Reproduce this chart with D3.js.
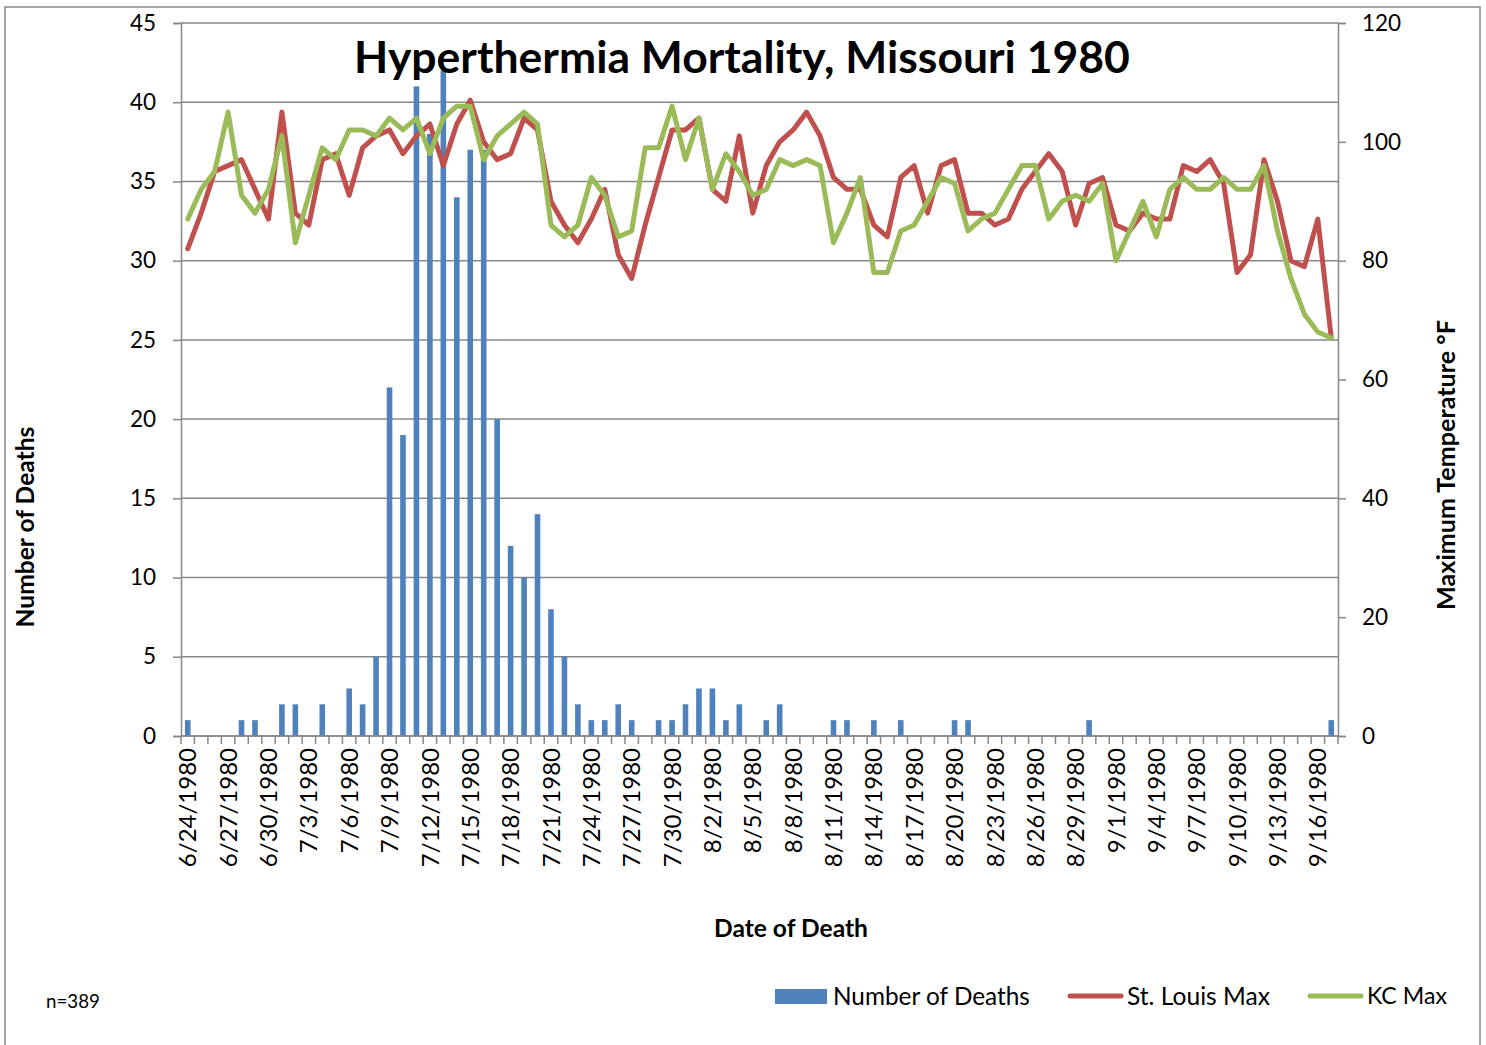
<!DOCTYPE html>
<html>
<head>
<meta charset="utf-8">
<script src="https://cdn.jsdelivr.net/npm/d3@7"></script>
<style>
  html, body { margin: 0; padding: 0; background: #fff; }
  svg { display: block; }
  text { font-family: Lato, "Open Sans", sans-serif; fill: #000; }
</style>
</head>
<body>
<svg id="chart" width="1486" height="1045"></svg>
<script>
// ---------- DATA ----------
const dates = d3.timeDay.range(new Date(1980, 5, 24), new Date(1980, 8, 18))
  .map(d3.timeFormat("%-m/%-d/%Y"));

const deaths = [
  1, 0, 0, 0, 1, 1, 0, 2, 2, 0,
  2, 0, 3, 2, 5, 22, 19, 41, 38, 42,
  34, 37, 37, 20, 12, 10, 14, 8, 5, 2,
  1, 1, 2, 1, 0, 1, 1, 2, 3, 3,
  1, 2, 0, 1, 2, 0, 0, 0, 1, 1,
  0, 1, 0, 1, 0, 0, 0, 1, 1, 0,
  0, 0, 0, 0, 0, 0, 0, 1, 0, 0,
  0, 0, 0, 0, 0, 0, 0, 0, 0, 0,
  0, 0, 0, 0, 0, 1
];

const stLouisMax = [
  82, 88, 95, 96, 97, 92, 87, 105, 88, 86,
  97, 98, 91, 99, 101, 102, 98, 101, 103, 96,
  103, 107, 100, 97, 98, 104, 102, 90, 86, 83,
  87, 92, 81, 77, 86, 94, 102, 102, 104, 92,
  90, 101, 88, 96, 100, 102, 105, 101, 94, 92,
  92, 86, 84, 94, 96, 88, 96, 97, 88, 88,
  86, 87, 92, 95, 98, 95, 86, 93, 94, 86,
  85, 88, 87, 87, 96, 95, 97, 93, 78, 81,
  97, 90, 80, 79, 87, 67
];

const kcMax = [
  87, 92, 95, 105, 91, 88, 92, 101, 83, 91,
  99, 97, 102, 102, 101, 104, 102, 104, 98, 104,
  106, 106, 97, 101, 103, 105, 103, 86, 84, 86,
  94, 91, 84, 85, 99, 99, 106, 97, 104, 92,
  98, 95, 91, 92, 97, 96, 97, 96, 83, 88,
  94, 78, 78, 85, 86, 90, 94, 93, 85, 87,
  88, 92, 96, 96, 87, 90, 91, 90, 93, 80,
  85, 90, 84, 92, 94, 92, 92, 94, 92, 92,
  96, 85, 77, 71, 68, 67
];

const leftTicks = [0, 5, 10, 15, 20, 25, 30, 35, 40, 45];
const rightTicks = [0, 20, 40, 60, 80, 100, 120];
const seriesNames = ["Number of Deaths", "St. Louis Max", "KC Max"];
const titleText = "Hyperthermia Mortality, Missouri 1980";

// ---------- LAYOUT ----------
const colors = { bar: "#4F81BD", stl: "#C0504D", kc: "#9BBB59", axis: "#878787" };
const plot = { left: 181, right: 1338, top: 23, bottom: 736 };

const svg = d3.select("#chart");

function fit(sel, w) {
  const cur = parseFloat(sel.attr("font-size"));
  const len = sel.node().getComputedTextLength();
  sel.attr("font-size", cur * w / len);
  return sel;
}

// outer chart border
svg.append("rect")
  .attr("x", 5).attr("y", 7).attr("width", 1475).attr("height", 1060)
  .attr("fill", "none").attr("stroke", "#8a8a8a").attr("stroke-width", 1.5);

const x = d3.scaleBand().domain(dates).range([plot.left, plot.right]).padding(0);
const yL = d3.scaleLinear().domain([0, 45]).range([plot.bottom, plot.top]);
const yR = d3.scaleLinear().domain([0, 120]).range([plot.bottom, plot.top]);

// gridlines
svg.append("g").selectAll("line").data(leftTicks).join("line")
  .attr("x1", plot.left).attr("x2", plot.right)
  .attr("y1", d => yL(d)).attr("y2", d => yL(d))
  .attr("stroke", colors.axis).attr("stroke-width", 1.5);

// bars
const barW = 5.6;
svg.append("g").selectAll("rect").data(deaths).join("rect")
  .attr("x", (d, i) => x(dates[i]) + x.bandwidth() / 2 - barW / 2)
  .attr("y", d => yL(d))
  .attr("width", barW)
  .attr("height", d => yL(0) - yL(d))
  .attr("fill", colors.bar);

// left axis
const leftAxis = d3.axisLeft(yL).tickValues(leftTicks).tickSize(8).tickPadding(17);
const gL = svg.append("g").attr("transform", `translate(${plot.left},0)`).call(leftAxis);
// right axis
const rightAxis = d3.axisRight(yR).tickValues(rightTicks).tickSize(8).tickPadding(16);
const gR = svg.append("g").attr("transform", `translate(${plot.right},0)`).call(rightAxis);

// bottom axis
const bottomAxis = d3.axisBottom(x)
  .tickValues(dates.filter((d, i) => i % 3 === 0))
  .tickSize(0).tickPadding(0);
const gB = svg.append("g").attr("transform", `translate(0,${plot.bottom})`).call(bottomAxis);

[gL, gR, gB].forEach(g => {
  g.select(".domain").attr("stroke", colors.axis).attr("stroke-width", 1.5);
  g.selectAll(".tick line").attr("stroke", colors.axis).attr("stroke-width", 1.5);
  g.selectAll(".tick text").attr("font-family", "Lato").attr("font-size", 22.5).attr("fill", "#000");
});
gB.select(".domain").attr("d", `M${plot.left},0H${plot.right}`);
gB.selectAll(".tick text")
  .attr("font-size", 24)
  .attr("transform", "rotate(-90)")
  .attr("text-anchor", "end")
  .attr("x", -12).attr("y", 0).attr("dy", "0.36em");

// category boundary tick marks on x axis
const bounds = dates.map(d => x(d)).concat([plot.right]);
svg.append("g").selectAll("line").data(bounds).join("line")
  .attr("x1", d => d).attr("x2", d => d)
  .attr("y1", plot.bottom).attr("y2", plot.bottom + 8)
  .attr("stroke", colors.axis).attr("stroke-width", 1.5);

// lines
const cx = i => x(dates[i]) + x.bandwidth() / 2;
const lineGen = d3.line().x((d, i) => cx(i)).y(d => yR(d));
svg.append("path").datum(stLouisMax)
  .attr("d", lineGen).attr("fill", "none")
  .attr("stroke", colors.stl).attr("stroke-width", 5)
  .attr("stroke-linejoin", "round").attr("stroke-linecap", "round");
svg.append("path").datum(kcMax)
  .attr("d", lineGen).attr("fill", "none")
  .attr("stroke", colors.kc).attr("stroke-width", 5)
  .attr("stroke-linejoin", "round").attr("stroke-linecap", "round");

// title
const title = svg.append("text")
  .attr("x", 742).attr("y", 73)
  .attr("text-anchor", "middle")
  .attr("font-weight", "bold").attr("font-size", 40)
  .text(titleText);
fit(title, 776);

// axis titles
const yTitleL = svg.append("text")
  .attr("transform", "translate(34,527) rotate(-90)")
  .attr("text-anchor", "middle").attr("font-weight", "bold").attr("font-size", 21)
  .text("Number of Deaths");
fit(yTitleL, 201);

const yTitleR = svg.append("text")
  .attr("transform", "translate(1455,465) rotate(-90)")
  .attr("text-anchor", "middle").attr("font-weight", "bold").attr("font-size", 21)
  .text("Maximum Temperature °F");
fit(yTitleR, 290);

const xTitle = svg.append("text")
  .attr("x", 791).attr("y", 937)
  .attr("text-anchor", "middle").attr("font-weight", "bold").attr("font-size", 21)
  .text("Date of Death");
fit(xTitle, 154);

// n label
const nLabel = svg.append("text")
  .attr("x", 46).attr("y", 1008).attr("font-size", 17).text("n=389");
fit(nLabel, 54);

// legend
const legY = 996;
svg.append("rect").attr("x", 775).attr("y", 989).attr("width", 52).attr("height", 15)
  .attr("fill", colors.bar);
const l1 = svg.append("text").attr("x", 833).attr("y", legY).attr("dy", "0.36em")
  .attr("font-size", 22).text(seriesNames[0]);
fit(l1, 197);

svg.append("line").attr("x1", 1070).attr("x2", 1121).attr("y1", legY).attr("y2", legY)
  .attr("stroke", colors.stl).attr("stroke-width", 5).attr("stroke-linecap", "round");
const l2 = svg.append("text").attr("x", 1127).attr("y", legY).attr("dy", "0.36em")
  .attr("font-size", 22).text(seriesNames[1]);
fit(l2, 143);

svg.append("line").attr("x1", 1310).attr("x2", 1361).attr("y1", legY).attr("y2", legY)
  .attr("stroke", colors.kc).attr("stroke-width", 5).attr("stroke-linecap", "round");
const l3 = svg.append("text").attr("x", 1367).attr("y", legY).attr("dy", "0.36em")
  .attr("font-size", 22).text(seriesNames[2]);
fit(l3, 80);
</script>
</body>
</html>
